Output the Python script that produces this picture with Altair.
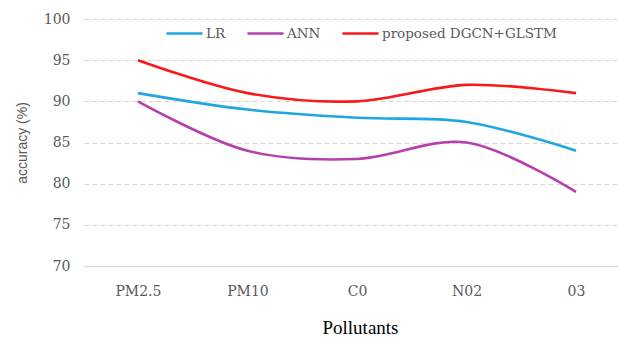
import altair as alt
import pandas as pd

pollutants = ["PM2.5", "PM10", "C0", "N02", "03"]
series_names = ["LR", "ANN", "proposed DGCN+GLSTM"]
lr = [91, 89, 88, 87.5, 84]
ann = [90, 84, 83, 85, 79]
proposed = [95, 91, 90, 92, 91]
colors = ["#1ea7e1", "#b53fae", "#f8191c"]

rows = []
for name, vals in zip(series_names, [lr, ann, proposed]):
    for p, v in zip(pollutants, vals):
        rows.append({"Pollutant": p, "Accuracy": v, "Model": name})
df = pd.DataFrame(rows)

chart = alt.Chart(df).mark_line(interpolate="catmull-rom", strokeWidth=2.6).encode(
    x=alt.X("Pollutant:N", sort=pollutants,
            scale=alt.Scale(type="point", padding=0.438, align=0.5625),
            axis=alt.Axis(title="Pollutants", labelAngle=0, ticks=False, grid=False,
                          domainColor="#d9d9d9", domainWidth=1.5,
                          labelFont="DejaVu Serif", labelFontSize=14, labelColor="#595959",
                          labelPadding=18,
                          titleFont="Times New Roman, Liberation Serif, serif", titleFontSize=19,
                          titleFontWeight="normal",
                          titleColor="#000000", titlePadding=20, titleX=276)),
    y=alt.Y("Accuracy:Q", scale=alt.Scale(domain=[70, 100], nice=False, zero=False),
            axis=alt.Axis(title="accuracy (%)", values=[70, 75, 80, 85, 90, 95, 100],
                          ticks=False, domain=False, grid=True,
                          gridColor="#d6d6d6", gridDash=[5, 3], gridWidth=1,
                          labelFont="DejaVu Serif", labelFontSize=14, labelColor="#595959",
                          labelPadding=14,
                          titleFont="Liberation Sans", titleFontSize=14, titleFontWeight="normal",
                          titleColor="#595959", titlePadding=14)),
    color=alt.Color("Model:N", sort=series_names,
                    scale=alt.Scale(domain=series_names, range=colors),
                    legend=alt.Legend(title=None, orient="none", direction="horizontal",
                                      legendX=81, legendY=-5,
                                      symbolType="stroke", symbolSize=1300, symbolStrokeWidth=2.6,
                                      labelFont="DejaVu Serif", labelFontSize=13.5,
                                      labelColor="#595959", labelOffset=2, labelLimit=0,
                                      columnPadding=16)),
).properties(
    width=534, height=247,
    autosize=alt.AutoSizeParams(type="none"),
    padding={"left": 84, "top": 19, "right": 0, "bottom": 73},
).configure_view(stroke=None)

chart.save("out.html", embed_options={"renderer": "svg", "actions": False})
